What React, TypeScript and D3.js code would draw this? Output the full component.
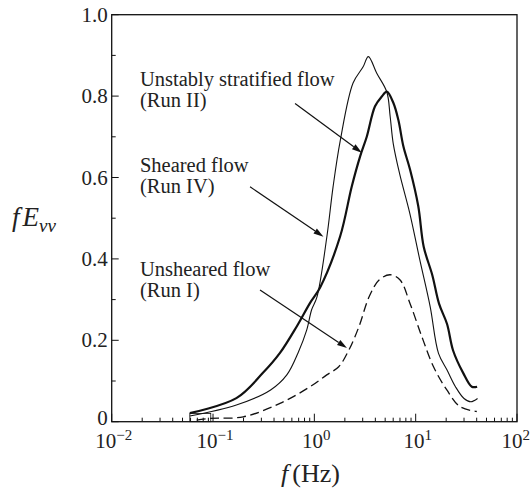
import React, { useEffect, useRef } from "react";
import * as d3 from "d3";

// ---- data ----
const thinF = [0.059, 0.17, 0.37, 0.535, 0.69, 0.84, 0.94, 1.06, 1.33, 1.53, 1.8, 2.41, 3.03, 3.41, 4.13, 5.19, 5.6, 6.0, 6.93, 8.75, 11.0, 13.9, 16.8, 20.4, 24.7, 30.0, 35.0, 40.8];
const thinV = [0.014, 0.041, 0.078, 0.115, 0.169, 0.225, 0.275, 0.306, 0.455, 0.577, 0.69, 0.832, 0.872, 0.897, 0.856, 0.81, 0.75, 0.684, 0.61, 0.512, 0.397, 0.283, 0.168, 0.127, 0.086, 0.057, 0.049, 0.057];

const thickF = [0.059, 0.17, 0.311, 0.458, 0.67, 0.908, 1.14, 1.795, 2.34, 2.83, 3.29, 3.97, 4.63, 5.19, 6.03, 6.75, 7.57, 8.81, 10.6, 12.0, 14.6, 17.0, 20.4, 23.4, 29.4, 35.8, 40.4];
const thickV = [0.021, 0.058, 0.12, 0.169, 0.234, 0.292, 0.33, 0.455, 0.578, 0.652, 0.7, 0.775, 0.799, 0.811, 0.783, 0.741, 0.676, 0.619, 0.53, 0.43, 0.36, 0.29, 0.24, 0.175, 0.12, 0.086, 0.086];

const dashF = [0.069, 0.0933, 0.199, 0.458, 0.908, 1.326, 1.74, 2.19, 2.76, 3.47, 4.35, 5.59, 7.02, 8.81, 11.5, 15.0, 20.3, 27.4, 40.1];
const dashV = [0.004, 0.008, 0.012, 0.045, 0.086, 0.115, 0.135, 0.176, 0.234, 0.307, 0.348, 0.361, 0.348, 0.29, 0.209, 0.135, 0.078, 0.037, 0.025];

const xTickExps = [-2, -1, 0, 1, 2];
const yTicks = [0, 0.2, 0.4, 0.6, 0.8, 1.0];
const yTickLabels = ["0", "0.2", "0.4", "0.6", "0.8", "1.0"];
const yMinorTicks = [0.1, 0.3, 0.5, 0.7, 0.9];

const labelLines = [
  ["Unstably stratified flow", "(Run II)"],
  ["Sheared flow", "(Run IV)"],
  ["Unsheared flow", "(Run I)"],
];
const labelF = [0.019, 0.019, 0.019];
const labelV = [0.826, 0.614, 0.358];
// arrows: start (f, v) -> tip (f, v)
const arrowFromF = [0.645, 0.232, 0.291];
const arrowFromV = [0.782, 0.577, 0.3236];
const arrowToF = [2.94, 1.23, 2.1];
const arrowToV = [0.661, 0.4545, 0.181];

const W = 531;
const H = 490;
const left = 111.7, right = 517, top = 14.7, bottom = 421.7;

export default function App() {
  const ref = useRef<SVGSVGElement | null>(null);
  useEffect(() => {
    document.body.style.margin = "0";
    const svg = d3.select(ref.current);
    svg.selectAll("*").remove();
    const x = d3.scaleLog().domain([0.01, 100]).range([left, right]);
    const y = d3.scaleLinear().domain([0, 1]).range([bottom, top]);
    const font = "Liberation Serif, Times New Roman, serif";
    const ink = "#111";

    // minor x ticks
    const minor: number[] = [];
    for (let e = -2; e < 2; e++) for (let k = 2; k <= 9; k++) minor.push(k * Math.pow(10, e));
    svg.append("g").selectAll("line").data(minor).join("line")
      .attr("x1", (d) => x(d)).attr("x2", (d) => x(d))
      .attr("y1", bottom).attr("y2", bottom - 4)
      .attr("stroke", ink).attr("stroke-width", 1);
    svg.append("g").selectAll("line").data(xTickExps).join("line")
      .attr("x1", (d) => x(Math.pow(10, d))).attr("x2", (d) => x(Math.pow(10, d)))
      .attr("y1", bottom).attr("y2", bottom - 8)
      .attr("stroke", ink).attr("stroke-width", 1);
    // y ticks
    svg.append("g").selectAll("line").data(yTicks).join("line")
      .attr("x1", left).attr("x2", left + 7)
      .attr("y1", (d) => y(d)).attr("y2", (d) => y(d))
      .attr("stroke", ink).attr("stroke-width", 1);
    svg.append("g").selectAll("line").data(yMinorTicks).join("line")
      .attr("x1", left).attr("x2", left + 4)
      .attr("y1", (d) => y(d)).attr("y2", (d) => y(d))
      .attr("stroke", ink).attr("stroke-width", 1);

    // frame
    svg.append("rect").attr("x", left).attr("y", top)
      .attr("width", right - left).attr("height", bottom - top)
      .attr("fill", "none").attr("stroke", ink).attr("stroke-width", 1.3);

    // y tick labels
    svg.append("g").selectAll("text").data(yTicks).join("text")
      .attr("x", left - 4).attr("y", (d) => y(d) + (d === 0 ? 3 : 7))
      .attr("text-anchor", "end").attr("font-family", font).attr("font-size", 21)
      .attr("fill", "#222")
      .text((d, i) => yTickLabels[i]);

    // x tick labels
    const lastExp = xTickExps[xTickExps.length - 1];
    const xl = svg.append("g").selectAll("text").data(xTickExps).join("text")
      .attr("x", (d) => (d === lastExp ? W - 1 : x(Math.pow(10, d)) + 2))
      .attr("y", bottom + 26)
      .attr("text-anchor", (d) => (d === lastExp ? "end" : "middle"))
      .attr("font-family", font).attr("font-size", 21)
      .attr("fill", "#222");
    xl.append("tspan").text("10");
    xl.append("tspan").attr("dy", -8).attr("font-size", 15)
      .text((d) => (d < 0 ? "\u2212" + Math.abs(d) : String(d)));

    // axis titles
    const xt = svg.append("text").attr("x", 281).attr("y", 482)
      .attr("font-family", font).attr("font-size", 26).attr("fill", "#222");
    xt.append("tspan").attr("font-style", "italic").text("f");
    xt.append("tspan").attr("dx", 4).text("(Hz)");

    const yt = svg.append("text").attr("x", 12).attr("y", 226)
      .attr("font-family", font).attr("font-size", 27).attr("fill", "#222")
      .attr("font-style", "italic");
    yt.append("tspan").text("f");
    yt.append("tspan").attr("dx", 3).text("E");
    yt.append("tspan").attr("dy", 6).attr("font-size", 19).text("vv");

    // curves
    const line = d3.line<[number, number]>()
      .x((d) => x(d[0])).y((d) => y(d[1]))
      .curve(d3.curveCatmullRom.alpha(0.5));
    const series = [
      { f: thinF, v: thinV, w: 1.1, dash: null as string | null },
      { f: thickF, v: thickV, w: 2.2, dash: null as string | null },
      { f: dashF, v: dashV, w: 1.3, dash: "9,4.5" },
    ];
    series.forEach((s) => {
      const pts = s.f.map((f, i) => [f, s.v[i]] as [number, number]);
      const p = svg.append("path").attr("d", line(pts) as string)
        .attr("fill", "none").attr("stroke", ink).attr("stroke-width", s.w)
        .attr("stroke-linejoin", "round");
      if (s.dash) p.attr("stroke-dasharray", s.dash);
    });

    // small box artefact near curve start
    svg.append("rect")
      .attr("x", x(thinF[0])).attr("y", y(0.02))
      .attr("width", x(0.095) - x(thinF[0])).attr("height", y(0) - y(0.02))
      .attr("fill", "none").attr("stroke", ink).attr("stroke-width", 0.8);

    // labels
    labelLines.forEach((lines, i) => {
      lines.forEach((t, j) => {
        svg.append("text").attr("x", x(labelF[i])).attr("y", y(labelV[i]) + j * 21)
          .attr("font-family", font).attr("font-size", 20.5).attr("fill", "#222").text(t);
      });
    });

    // arrows
    arrowFromF.forEach((_, i) => {
      const x1 = x(arrowFromF[i]), y1 = y(arrowFromV[i]);
      const x2 = x(arrowToF[i]), y2 = y(arrowToV[i]);
      const ang = Math.atan2(y2 - y1, x2 - x1);
      const L = 10, Wd = 3;
      const bx = x2 - L * Math.cos(ang), by = y2 - L * Math.sin(ang);
      svg.append("line").attr("x1", x1).attr("y1", y1).attr("x2", bx).attr("y2", by)
        .attr("stroke", ink).attr("stroke-width", 1.2);
      const pts = [
        [x2, y2],
        [bx + Wd * Math.sin(ang), by - Wd * Math.cos(ang)],
        [bx - Wd * Math.sin(ang), by + Wd * Math.cos(ang)],
      ];
      svg.append("polygon").attr("points", pts.map((p) => p.join(",")).join(" "))
        .attr("fill", ink);
    });
  }, []);
  return (
    <svg ref={ref} width={W} height={H} style={{ display: "block", background: "#fff" }} />
  );
}
